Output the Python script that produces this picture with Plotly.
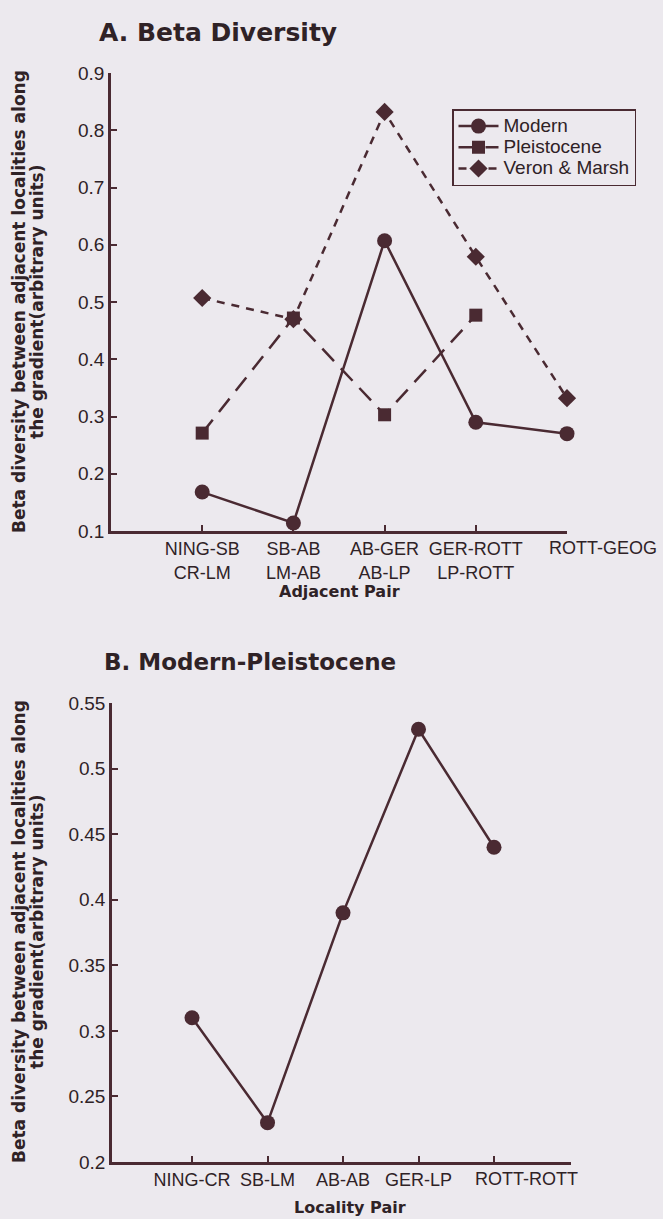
import plotly.graph_objects as go

# ---------------- data ----------------
pairs_a_line1 = ["NING-SB", "SB-AB", "AB-GER", "GER-ROTT", "ROTT-GEOG"]
pairs_a_line2 = ["CR-LM", "LM-AB", "AB-LP", "LP-ROTT", ""]
modern = [0.168, 0.114, 0.607, 0.290, 0.270]
pleistocene = [0.271, 0.472, 0.303, 0.477]
veron_marsh = [0.507, 0.470, 0.832, 0.579, 0.332]

pairs_b = ["NING-CR", "SB-LM", "AB-AB", "GER-LP", "ROTT-ROTT"]
modern_pleistocene = [0.31, 0.23, 0.39, 0.53, 0.44]

yticks_a = [0.1, 0.2, 0.3, 0.4, 0.5, 0.6, 0.7, 0.8, 0.9]
yticks_a_text = ["0.1", "0.2", "0.3", "0.4", "0.5", "0.6", "0.7", "0.8", "0.9"]
yticks_b = [0.2, 0.25, 0.3, 0.35, 0.4, 0.45, 0.5, 0.55]
yticks_b_text = ["0.2", "0.25", "0.3", "0.35", "0.4", "0.45", "0.5", "0.55"]

ytitle_line1 = "Beta diversity between adjacent localities along"
ytitle_line2 = "the gradient(arbitrary units)"

# ---------------- style ----------------
W, H = 663, 1219
BG = "#ece9ee"
INK = "#4a2a32"
TXT = "#2f2226"
TFONT = "DejaVu Sans"
AFONT = "Liberation Sans"

def px_x(p):
    return p / W

def px_y(p):
    return 1 - p / H

def leg(name):
    return "<span style='font-size:19px'>" + name + "</span>"

fig = go.Figure()

xa = list(range(len(pairs_a_line1)))
fig.add_trace(go.Scatter(
    x=xa, y=modern, name=leg("Modern"), mode="lines+markers",
    line=dict(color=INK, width=2.5),
    marker=dict(symbol="circle", size=15, color=INK),
    cliponaxis=False, xaxis="x", yaxis="y"))
fig.add_trace(go.Scatter(
    x=xa[:len(pleistocene)], y=pleistocene, name=leg("Pleistocene"),
    mode="lines+markers",
    line=dict(color=INK, width=2.5, dash="17px,10px"),
    marker=dict(symbol="square", size=13, color=INK),
    cliponaxis=False, xaxis="x", yaxis="y"))
fig.add_trace(go.Scatter(
    x=xa, y=veron_marsh, name=leg("Veron &amp; Marsh"),
    mode="lines+markers",
    line=dict(color=INK, width=2.5, dash="8px,7px"),
    marker=dict(symbol="diamond", size=14, color=INK),
    cliponaxis=False, xaxis="x", yaxis="y"))

xb = list(range(len(pairs_b)))
fig.add_trace(go.Scatter(
    x=xb, y=modern_pleistocene, name="Modern-Pleistocene", mode="lines+markers",
    line=dict(color=INK, width=2.5),
    marker=dict(symbol="circle", size=15, color=INK),
    cliponaxis=False, showlegend=False, xaxis="x2", yaxis="y2"))

axis_common = dict(
    showline=True, linecolor=INK, linewidth=2.5, mirror=False,
    ticks="inside", ticklen=6, tickwidth=1.5, tickcolor=INK,
    showgrid=False, zeroline=False, fixedrange=True, automargin=False,
    tickfont=dict(family=AFONT, size=18, color=TXT),
)
yaxis_common = {**axis_common, "tickfont": dict(family=AFONT, size=19, color=TXT)}

fig.update_layout(
    width=W, height=H,
    margin=dict(l=0, r=0, t=0, b=0, autoexpand=False),
    paper_bgcolor=BG, plot_bgcolor=BG,
    xaxis=dict(
        domain=[px_x(111), px_x(567)], anchor="y", range=[-1, 4],
        tickmode="array", tickvals=xa, tickangle=0,
        ticktext=[a + "<br>" + b for a, b in zip(pairs_a_line1[:-1], pairs_a_line2[:-1])] + [""],
        **axis_common),
    yaxis=dict(
        domain=[px_y(531), px_y(73)], anchor="x", range=[0.1, 0.9],
        tickmode="array", tickvals=yticks_a, ticktext=yticks_a_text,
        **yaxis_common),
    xaxis2=dict(
        domain=[px_x(112), px_x(571)], anchor="y2", range=[-1.06, 5.02],
        tickmode="array", tickvals=xb, ticktext=pairs_b[:-1] + [""], tickangle=0,
        **axis_common),
    yaxis2=dict(
        domain=[px_y(1162), px_y(703)], anchor="x2", range=[0.2, 0.55],
        tickmode="array", tickvals=yticks_b, ticktext=yticks_b_text,
        **yaxis_common),
    legend=dict(
        x=px_x(452), y=px_y(109), xanchor="left", yanchor="top",
        bgcolor="rgba(0,0,0,0)", bordercolor=INK, borderwidth=1.5,
        font=dict(family=AFONT, size=14, color=TXT),
        tracegroupgap=0, itemwidth=40,
    ),
    showlegend=True,
)

annotations = [
    dict(text="<b>A. Beta Diversity</b>", x=px_x(97), y=px_y(33), xanchor="left", yanchor="middle",
         xref="paper", yref="paper", font=dict(family=TFONT, size=25, color=TXT)),
    dict(text="<b>B. Modern-Pleistocene</b>", x=px_x(102), y=px_y(662), xanchor="left", yanchor="middle",
         xref="paper", yref="paper", font=dict(family=TFONT, size=23, color=TXT)),
    dict(text="<b>Adjacent Pair</b>", x=px_x(340), y=px_y(592), xanchor="center", yanchor="middle",
         xref="paper", yref="paper", font=dict(family=TFONT, size=16, color=TXT)),
    dict(text="<b>Locality Pair</b>", x=px_x(350), y=px_y(1207), xanchor="center", yanchor="middle",
         xref="paper", yref="paper", font=dict(family=TFONT, size=16, color=TXT)),
    # last category labels (shifted right in the source)
    dict(text=pairs_a_line1[-1], x=xa[-1], y=yticks_a[0], xref="x", yref="y",
         xanchor="center", yanchor="top", xshift=36, yshift=-5,
         font=dict(family=AFONT, size=18, color=TXT)),
    dict(text=pairs_b[-1], x=xb[-1], y=yticks_b[0], xref="x2", yref="y2",
         xanchor="center", yanchor="top", xshift=32, yshift=-5,
         font=dict(family=AFONT, size=18, color=TXT)),
]
for yc in (302, 932):
    annotations.append(dict(text="<b>" + ytitle_line1 + "</b>", x=px_x(19), y=px_y(yc),
                            xref="paper", yref="paper", xanchor="center", yanchor="middle",
                            textangle=-90, font=dict(family=TFONT, size=17, color=TXT)))
    annotations.append(dict(text="<b>" + ytitle_line2 + "</b>", x=px_x(37), y=px_y(yc),
                            xref="paper", yref="paper", xanchor="center", yanchor="middle",
                            textangle=-90, font=dict(family=TFONT, size=17, color=TXT)))
for a in annotations:
    a.update(showarrow=False)
fig.update_layout(annotations=annotations)

fig.write_html("out.html", config={"displayModeBar": False},
               post_script="document.body.style.margin='0px';")
